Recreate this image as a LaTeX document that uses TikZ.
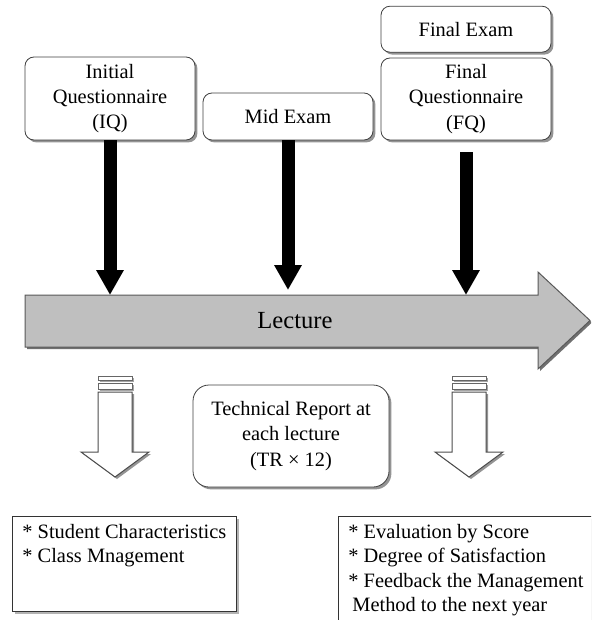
\documentclass[tikz,border=0pt]{standalone}
\usepackage{fontspec}
\setmainfont{Liberation Serif}
\usetikzlibrary{
    arrows.meta,
    positioning,
    shadows
}

\tikzset{
    event/.style={draw=black!75, fill=white, rounded corners=4.5pt, align=center,
        inner sep=1pt, minimum width=85pt, font=\fontsize{10.2}{12.7}\selectfont,
        drop shadow={shadow xshift=1.2pt, shadow yshift=-1.2pt, fill=black!60, opacity=.7}},
    note/.style={draw=black!80, fill=white, inner xsep=5pt, inner ysep=4pt,
        font=\fontsize{10.2}{12.2}\selectfont,
        drop shadow={shadow xshift=1.2pt, shadow yshift=-1.2pt, fill=black!50, opacity=.6}},
    hollow/.style={draw=black!70, fill=white, line width=0.5pt,
        drop shadow={shadow xshift=1pt, shadow yshift=-1pt, fill=black!60, opacity=.7}},
    push/.style={line width=6.5pt, -{Triangle[width=13pt, length=12.5pt]}}
}

\begin{document}
\begin{tikzpicture}[x=0.5pt, y=-0.5pt]
    \useasboundingbox (0,0) rectangle (591,620);
    \clip (0,0) rectangle (591,620);

    % time line
    \path[fill=black!25, draw=black!65, line width=0.5pt,
        drop shadow={shadow xshift=1pt, shadow yshift=-1pt, fill=black!70, opacity=.8}]
        (25,295) -- (538,295) -- (538,272) -- (590,320.5) -- (538,369)
        -- (538,347) -- (25,347) -- cycle;
    \node[font=\fontsize{12.3}{14}\selectfont] (lecture) at (295,321) {Lecture};
    \coordinate (linetop) at (0,295);

    % events above the line
    \node[event, minimum height=41.5pt] (iq)  at (110,98.5) {Initial\\Questionnaire\\(IQ)};
    \node[event, minimum height=23.5pt] (mid) at (288,116.5) {Mid Exam};
    \node[event, minimum height=41pt]   (fq)  at (466,99) {Final\\Questionnaire\\(FQ)};
    \node[event, minimum height=23pt, above=2.5pt of fq] (final) {Final Exam};

    \draw[push] (iq.south) -- (iq.south |- linetop);
    \draw[push, shorten >=2.5pt] (mid.south) -- (mid.south |- linetop);
    \draw[push] ([yshift=-6pt]fq.south) -- (fq.south |- linetop);

    % results below the line
    \fill[white, drop shadow={shadow xshift=1pt, shadow yshift=-1pt, fill=black!70}]
        (98,376) rectangle (132,380);
    \draw[black!60] (98,376) rectangle (132,380);
    \fill[white, drop shadow={shadow xshift=1pt, shadow yshift=-1pt, fill=black!70}]
        (98,383) rectangle (132,389);
    \draw[black!60] (98,383) rectangle (132,389);
    \path[hollow] (98,392) -- (132,392) -- (132,452) -- (149,452) -- (115,477)
        -- (81,452) -- (98,452) -- cycle;

    \fill[white, drop shadow={shadow xshift=1pt, shadow yshift=-1pt, fill=black!70}]
        (452,376) rectangle (486,380);
    \draw[black!60] (452,376) rectangle (486,380);
    \fill[white, drop shadow={shadow xshift=1pt, shadow yshift=-1pt, fill=black!70}]
        (452,383) rectangle (486,389);
    \draw[black!60] (452,383) rectangle (486,389);
    \path[hollow] (452,392) -- (486,392) -- (486,452) -- (503,452) -- (469,477)
        -- (435,452) -- (452,452) -- cycle;

    \node[event, rounded corners=8pt, minimum width=98pt, minimum height=51pt]
        (tr) at (291,436) {Technical Report at\\each lecture\\(TR × 12)};

    \node[note, anchor=north west] (first) at (12,516)
        {\parbox[t][39.5pt][t]{102pt}{* Student Characteristics\\{}* Class Mnagement}};
    \node[note, anchor=north west] (last) at (338,516)
        {\parbox[t][70pt][t]{140pt}{* Evaluation by Score\\{}* Degree of Satisfaction\\{}%
        * Feedback the Management\\\hspace*{2pt}Method to the next year}};
\end{tikzpicture}
\end{document}
